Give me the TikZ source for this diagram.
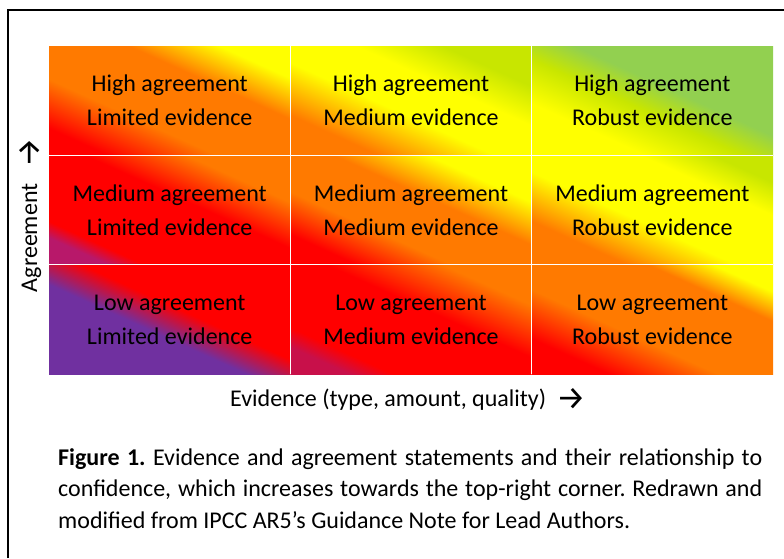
\documentclass[tikz,border=0pt]{standalone}
\usepackage{fontspec}
\setmainfont{Carlito}
\newfontfamily\arrowfont{Fira Sans}
\frenchspacing
\definecolor{pu}{HTML}{7030A0}
\definecolor{orng}{HTML}{FF7A00}
\definecolor{yel}{HTML}{FFFF00}
\definecolor{ygr}{HTML}{C8E600}
\definecolor{grn}{HTML}{92D050}
\definecolor{crim}{HTML}{C8104A}
\definecolor{crimb}{HTML}{B8186A}
\pgfdeclarehorizontalshading{sLL}{100bp}{color(0bp)=(pu); color(44bp)=(pu); color(54.5bp)=(red); color(100bp)=(red)}
\pgfdeclarehorizontalshading{sLM}{100bp}{color(0bp)=(crim); color(25bp)=(crim); color(31bp)=(red); color(55bp)=(red); color(71bp)=(orng); color(100bp)=(orng)}
\pgfdeclarehorizontalshading{sLR}{100bp}{color(0bp)=(red); color(27.5bp)=(red); color(42.5bp)=(orng); color(66bp)=(orng); color(75bp)=(yel); color(100bp)=(yel)}
\pgfdeclarehorizontalshading{sML}{100bp}{color(0bp)=(crimb); color(25bp)=(crimb); color(30bp)=(red); color(55bp)=(red); color(69bp)=(orng); color(100bp)=(orng)}
\pgfdeclarehorizontalshading{sMM}{100bp}{color(0bp)=(red); color(26bp)=(red); color(39bp)=(orng); color(56bp)=(orng); color(69bp)=(yel); color(100bp)=(yel)}
\pgfdeclarehorizontalshading{sMR}{100bp}{color(0bp)=(orng); color(30bp)=(orng); color(45bp)=(yel); color(65bp)=(yel); color(75bp)=(ygr); color(100bp)=(ygr)}
\pgfdeclarehorizontalshading{sHL}{100bp}{color(0bp)=(red); color(25bp)=(red); color(40bp)=(orng); color(61bp)=(orng); color(73.5bp)=(yel); color(100bp)=(yel)}
\pgfdeclarehorizontalshading{sHM}{100bp}{color(0bp)=(orng); color(29bp)=(orng); color(45bp)=(yel); color(59bp)=(yel); color(71bp)=(ygr); color(100bp)=(ygr)}
\pgfdeclarehorizontalshading{sHR}{100bp}{color(0bp)=(yel); color(32.5bp)=(yel); color(46bp)=(ygr); color(56bp)=(grn); color(100bp)=(grn)}
\tikzset{
  cellshade/.style={shading=#1, shading angle=65.62},
  celltext/.style={font=\fontsize{24}{34}\selectfont, align=center, inner sep=0pt, text=black},
  gridline/.style={draw=white, line width=1.3pt},
  axislbl/.style={font=\fontsize{24}{28}\selectfont, inner sep=0pt, text=black},
  captext/.style={font=\fontsize{24}{31}\selectfont, inner sep=0pt, text=black, anchor=base west},
  framel/.style={draw=black, line width=1.8pt, line join=miter}
}
\newcommand{\axarrow}{\raisebox{-3pt}{\arrowfont\fontsize{33}{36}\selectfont →}}
\begin{document}
\begin{tikzpicture}[x=1pt,y=-1pt]
\useasboundingbox (0,0) rectangle (784,558);
\fill[white] (0,0) rectangle (784,558);
% grid corner coordinates
\coordinate (a0) at (49,46);    \coordinate (a3) at (773,46);
\coordinate (b0) at (49,155.3); \coordinate (b3) at (773,155.3);
\coordinate (c0) at (49,264.7); \coordinate (c3) at (773,264.7);
\coordinate (d0) at (49,374);   \coordinate (d3) at (773,374);
\coordinate (a1) at (290.3,46); \coordinate (d1) at (290.3,374);
\coordinate (a2) at (531.7,46); \coordinate (d2) at (531.7,374);
% cells
\shade[cellshade=sHL] (49,46) rectangle (290.3,155.3);
\shade[cellshade=sHM] (290.3,46) rectangle (531.7,155.3);
\shade[cellshade=sHR] (531.7,46) rectangle (773,155.3);
\shade[cellshade=sML] (49,155.3) rectangle (290.3,264.7);
\shade[cellshade=sMM] (290.3,155.3) rectangle (531.7,264.7);
\shade[cellshade=sMR] (531.7,155.3) rectangle (773,264.7);
\shade[cellshade=sLL] (49,264.7) rectangle (290.3,374);
\shade[cellshade=sLM] (290.3,264.7) rectangle (531.7,374);
\shade[cellshade=sLR] (531.7,264.7) rectangle (773,374);
% white grid lines
\draw[gridline] (a1) -- (d1);
\draw[gridline] (a2) -- (d2);
\draw[gridline] (b0) -- (b3);
\draw[gridline] (c0) -- (c3);
% cell texts
\node[celltext] (tHL) at (169.7,100.7) {High agreement\\Limited evidence};
\node[celltext] (tHM) at (411,100.7) {High agreement\\Medium evidence};
\node[celltext] (tHR) at (652.3,100.7) {High agreement\\Robust evidence};
\node[celltext] (tML) at (169.7,210.5) {Medium agreement\\Limited evidence};
\node[celltext] (tMM) at (411,210.5) {Medium agreement\\Medium evidence};
\node[celltext] (tMR) at (652.3,210.5) {Medium agreement\\Robust evidence};
\node[celltext] (tLL) at (169.7,319.8) {Low agreement\\Limited evidence};
\node[celltext] (tLM) at (411,319.8) {Low agreement\\Medium evidence};
\node[celltext] (tLR) at (652.3,319.8) {Low agreement\\Robust evidence};
% axis labels
\node[axislbl, anchor=base] (xlab) at (408,406) {Evidence (type, amount, quality)\hspace{10pt}\axarrow};
\node[axislbl, anchor=base, rotate=90] (ylab) at (37,215) {Agreement\hspace{16pt}\axarrow};
% caption
\node[captext] (cap1) at (58,465) {\makebox[704pt][s]{\textbf{Figure 1.} Evidence and agreement statements and their relationship to}};
\node[captext] (cap2) at (58,496.5) {\makebox[704pt][s]{confidence, which increases towards the top-right corner. Redrawn and}};
\node[captext] (cap3) at (58,528) {modified from IPCC AR5’s Guidance Note for Lead Authors.};
% frame
\coordinate (fb) at (8,558);
\coordinate (ftl) at (8,10);
\coordinate (fr) at (784,10);
\draw[framel] (fb) -- (ftl) -- (fr);
\end{tikzpicture}
\end{document}
